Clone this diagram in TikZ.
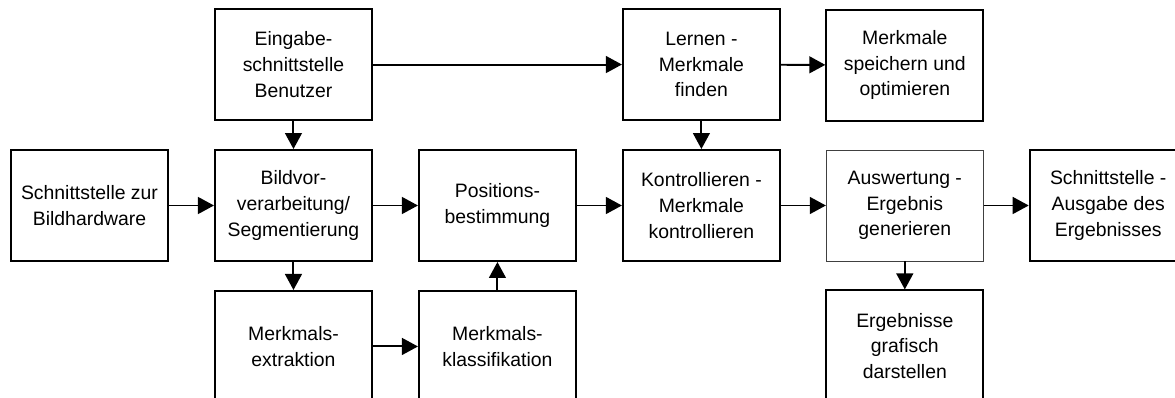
\documentclass[tikz,border=0pt]{standalone}
\usepackage{fontspec}
\setmainfont{Liberation Sans}
\usetikzlibrary{arrows.meta,positioning}

\begin{document}
\begin{tikzpicture}[
	node distance=0.7cm and 1.125cm,
	box/.style={draw, line width=1.4pt, minimum width=3.925cm, minimum height=2.775cm,
		inner sep=0pt, align=center, font=\fontsize{13.8}{18.2}\selectfont},
	thinbox/.style={box, line width=0.6pt, draw=black!75},
	flow/.style={line width=1.4pt, -{Triangle[length=0.4cm, width=0.42cm]}}]
	\useasboundingbox (0,0) rectangle (29.375,9.925);
	\clip (0,0) rectangle (29.375,9.925);

	% middle row
	\node[box] (schnitt) at (2.2375,4.7875) {Schnittstelle zur\\Bildhardware};
	\node[box, right=of schnitt] (bild) {Bildvor-\\verarbeitung/\\Segmentierung};
	\node[box, right=of bild] (pos) {Positions-\\bestimmung};
	\node[box, right=of pos] (kontr) {Kontrollieren -\\Merkmale\\kontrollieren};
	\node[thinbox, right=of kontr] (ausw) {Auswertung -\\Ergebnis\\generieren};
	\node[box, right=of ausw] (ausgabe) {Schnittstelle -\\Ausgabe des\\Ergebnisses};

	% top row
	\node[box, above=of bild] (eingabe) {Eingabe-\\schnittstelle\\Benutzer};
	\node[box, above=of kontr] (lernen) {Lernen -\\Merkmale\\finden};
	\node[box, above=of ausw] (speich) {Merkmale\\speichern und\\optimieren};

	% bottom row
	\node[box, below=of bild] (extrakt) {Merkmals-\\extraktion};
	\node[box, below=of pos] (klass) {Merkmals-\\klassifikation};
	\node[box, below=of ausw] (ergeb) {Ergebnisse\\grafisch\\darstellen};

	\draw[flow] (eingabe) -- (lernen);
	\draw[flow] (lernen) -- (speich);
	\draw[flow] (eingabe) -- (bild);
	\draw[flow] (lernen) -- (kontr);
	\draw[flow] (schnitt) -- (bild);
	\draw[flow] (bild) -- (pos);
	\draw[flow] (pos) -- (kontr);
	\draw[flow] (kontr) -- (ausw);
	\draw[flow] (ausw) -- (ausgabe);
	\draw[flow] (bild) -- (extrakt);
	\draw[flow] (extrakt) -- (klass);
	\draw[flow] (klass) -- (pos);
	\draw[flow] (ausw) -- (ergeb);
\end{tikzpicture}
\end{document}
